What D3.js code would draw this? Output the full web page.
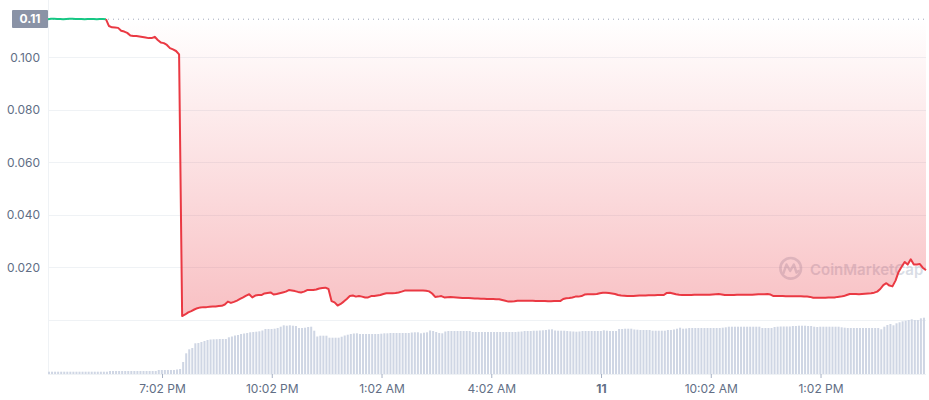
<!DOCTYPE html>
<html>
<head>
<meta charset="utf-8">
<script src="https://cdn.jsdelivr.net/npm/d3@7"></script>
<style>
  html, body { margin: 0; padding: 0; background: #fff; }
  svg { display: block; font-family: Inter, "Noto Sans", sans-serif; }
</style>
</head>
<body>
<svg id="chart" width="929" height="400"></svg>
<script>
// ---------- DATA ----------
const startTime = new Date(2024, 0, 10, 15, 55);   // first sample
const stepMinutes = 5;

// price every 5 minutes (USD)
const prices = [
  0.1145,0.1147,0.1147,0.1146,0.1146,0.1145,0.1146,0.1147,0.1147,0.1146,
  0.1146,0.1146,0.1145,0.1146,0.1146,0.1146,0.1145,0.1146,0.1146,0.1145,
  0.1119,0.1114,0.1113,0.1112,0.1101,0.1098,0.1093,0.1083,0.1081,0.1081,
  0.1079,0.1077,0.1075,0.1073,0.1073,0.1078,0.1066,0.1056,0.1054,0.1047,
  0.1035,0.1030,0.1024,0.1011,
  0.0015,0.0021,0.0029,0.0034,0.0040,0.0045,0.0048,0.0049,0.0049,0.0050,
  0.0051,0.0051,0.0053,0.0054,0.0059,0.0070,0.0065,0.0069,0.0074,0.0080,
  0.0086,0.0093,0.0098,0.0086,0.0093,0.0095,0.0095,0.0101,0.0103,0.0105,
  0.0097,0.0099,0.0102,0.0105,0.0108,0.0114,0.0112,0.0110,0.0107,0.0105,
  0.0108,0.0114,0.0114,0.0114,0.0116,0.0120,0.0122,0.0123,0.0118,0.0072,
  0.0067,0.0055,0.0061,0.0070,0.0080,0.0091,
  0.0093,0.0089,0.0091,0.0089,0.0086,0.0086,0.0091,0.0091,0.0093,0.0095,
  0.0099,0.0102,0.0102,0.0102,0.0103,0.0105,0.0108,0.0112,0.0112,0.0112,
  0.0112,0.0112,0.0112,0.0112,0.0111,0.0109,0.0101,0.0088,0.0089,0.0091,
  0.0086,0.0087,0.0088,0.0087,0.0086,0.0085,0.0084,0.0084,0.0084,0.0083,
  0.0082,0.0082,0.0081,0.0081,0.0080,0.0080,0.0080,0.0079,0.0079,0.0076,
  0.0073,0.0070,0.0070,0.0071,0.0073,0.0073,0.0073,0.0073,0.0073,0.0073,
  0.0072,0.0072,0.0072,0.0072,0.0071,0.0071,0.0072,0.0072,0.0072,0.0080,
  0.0083,0.0084,0.0086,0.0089,0.0089,0.0091,0.0097,0.0098,0.0098,0.0098,
  0.0099,0.0102,0.0104,0.0104,0.0103,0.0101,0.0099,0.0095,0.0093,0.0092,
  0.0091,0.0091,0.0091,0.0092,0.0093,0.0093,0.0093,0.0094,0.0094,0.0094,
  0.0095,0.0095,0.0095,0.0103,0.0104,0.0101,0.0098,0.0096,0.0095,0.0095,
  0.0095,0.0095,0.0096,0.0096,0.0096,0.0096,0.0096,0.0096,0.0097,0.0098,
  0.0099,0.0097,0.0095,0.0095,0.0095,0.0095,0.0096,0.0096,0.0096,0.0096,
  0.0096,0.0096,0.0097,0.0098,0.0098,0.0098,0.0099,0.0097,0.0091,0.0091,
  0.0091,0.0091,0.0090,0.0090,0.0090,0.0090,0.0090,0.0090,0.0089,0.0089,
  0.0088,0.0085,0.0085,0.0085,0.0085,0.0085,0.0086,0.0086,0.0086,0.0088,
  0.0089,0.0091,0.0095,0.0099,0.0099,0.0099,0.0098,0.0099,0.0100,0.0101,
  0.0102,0.0104,0.0108,0.0118,0.0133,0.0140,0.0131,0.0128,0.0150,0.0183,
  0.0203,0.0221,0.0211,0.0231,0.0211,0.0211,0.0213,0.0198,0.0190
];

// volume per 5-minute bar (thousand USD, relative)
const volumes = [
  2.3,2.3,2.3,2.3,2.3,2.3,2.3,2.3,2.3,2.3,2.3,2.3,2.3,2.3,2.3,2.3,2.3,2.3,2.3,2.3,
  3,3,3,3,3,3,3,3,3,3,3,3,3,3,3,3,
  4,4,4,4,4,4,4.5,5,
  12,20.7,24.7,26,30.7,31,32,33,34,34.5,34.7,34.8,35,35,35,36.7,
  37.5,38.5,39,40,40.5,41,41.7,42,42.3,42.7,
  43.5,45,45,45,45.3,46,47.3,48.7,48.3,48.7,
  48.3,48,46,46,46.3,47,47.3,43.3,37.5,38.3,
  38.3,38.3,36.3,36.3,36.3,36.3,37.3,38.5,39.3,40,
  40.5,40.7,40,40,40,40,40,40,40,40.3,
  40.7,40.7,41,41,41,41,41,41,41,41.5,
  41.7,41.7,40.7,41.3,41.7,43.5,43,42,41,40.7,
  42.5,43,43,43,43,43,43,43,43,42,
  42,42,42,42,42,42,42,42,42,42,
  42,42,42,42,42.3,42.5,43,43,43,43.3,
  43.3,43.5,43.7,44,44.5,44.7,43.5,43.3,43.3,43.3,
  43,42.7,42.5,42.3,42.5,43,43,43,43,43,
  43,43,43.7,43.3,43,43,43,45,45,45.3,
  45.3,45.3,44.5,44.3,44,44,44,44,43.3,43.3,
  43.3,43.3,43.3,44,44,44.5,45.3,46.3,45.3,45.5,
  46,46,46,46,46,46,46,46,46,46,
  46,46.3,46.7,47.3,47.3,47.3,47.3,47.3,47.3,47.3,
  47.3,47.3,47.3,47.3,46,46,46,46,47,47.3,
  47.5,47.5,47.5,47.5,48,48,48.3,48.3,48.3,48,
  48,47.3,47,47.3,47.3,47.3,47.3,47.3,47.3,47.3,
  46.7,46.3,46,46,46,46,46,46,46,46,
  46,46,46,44.7,47.3,49,50,48.7,50.7,51.7,
  52.7,53.3,54,54.7,54,54,55.7,56.3
];

const yTickValues = [0.02, 0.04, 0.06, 0.08, 0.10];
const xTickTimes = [
  new Date(2024, 0, 10, 19, 2), new Date(2024, 0, 10, 22, 2),
  new Date(2024, 0, 11, 1, 2),  new Date(2024, 0, 11, 4, 2),
  new Date(2024, 0, 11, 7, 2),  new Date(2024, 0, 11, 10, 2),
  new Date(2024, 0, 11, 13, 2)
];
const xTickLabels = ["7:02 PM", "10:02 PM", "1:02 AM", "4:02 AM", "11", "10:02 AM", "1:02 PM"];
const boldLabels = ["11"];

// ---------- LAYOUT ----------
const svg = d3.select("#chart");
const left = 48, right = 926;
const priceBottom = 320, volBottom = 374;
const red = "#ea3943", green = "#16c784";

const timeAt = i => new Date(+startTime + i * stepMinutes * 60000);
const endTime = timeAt(prices.length - 1);

const x = d3.scaleTime().domain([startTime, endTime]).range([left, right]);
const y = d3.scaleLinear().domain([0, 0.1]).range([priceBottom, 57.3]);
const yVol = d3.scaleLinear().domain([0, 60]).range([volBottom, volBottom - 60]);

const p0 = prices[0];
const baseY = y(p0);

// gradients
const defs = svg.append("defs");
const gRed = defs.append("linearGradient").attr("id", "gRed")
  .attr("gradientUnits", "userSpaceOnUse").attr("x1", 0).attr("x2", 0)
  .attr("y1", baseY).attr("y2", priceBottom);
gRed.append("stop").attr("offset", "0%").attr("stop-color", red).attr("stop-opacity", 0);
gRed.append("stop").attr("offset", "100%").attr("stop-color", red).attr("stop-opacity", 0.32);
const gGreen = defs.append("linearGradient").attr("id", "gGreen")
  .attr("gradientUnits", "userSpaceOnUse").attr("x1", 0).attr("x2", 0)
  .attr("y1", baseY - 20).attr("y2", baseY);
gGreen.append("stop").attr("offset", "0%").attr("stop-color", green).attr("stop-opacity", 0.3);
gGreen.append("stop").attr("offset", "100%").attr("stop-color", green).attr("stop-opacity", 0);

// gridlines
svg.append("g").selectAll("line").data([0].concat(yTickValues)).join("line")
  .attr("x1", left).attr("x2", right)
  .attr("y1", d => Math.round(y(d)) + 0.5).attr("y2", d => Math.round(y(d)) + 0.5)
  .attr("stroke", "#eff2f5").attr("stroke-width", 1);

// left axis line
svg.append("line").attr("x1", left + 0.5).attr("x2", left + 0.5)
  .attr("y1", 0).attr("y2", volBottom)
  .attr("stroke", "#eff2f5").attr("stroke-width", 1);
// volume baseline
svg.append("line").attr("x1", left).attr("x2", right)
  .attr("y1", volBottom + 0.5).attr("y2", volBottom + 0.5)
  .attr("stroke", "#eff2f5").attr("stroke-width", 1);

// y labels
const yAxis = d3.axisLeft(y).tickValues(yTickValues).tickFormat(d3.format(".3f")).tickSize(0).tickPadding(0);
const yg = svg.append("g").attr("transform", `translate(40,0)`).call(yAxis);
yg.select(".domain").remove();
yg.selectAll("text").attr("fill", "#616e85").attr("font-size", 12).attr("font-family", "Inter, sans-serif");

// volume bars
const stepPx = x(timeAt(1)) - x(timeAt(0));
svg.append("g").selectAll("rect").data(volumes).join("rect")
  .attr("x", (d, i) => x(timeAt(i)))
  .attr("width", stepPx * 0.66)
  .attr("y", d => yVol(d))
  .attr("height", d => volBottom - yVol(d))
  .attr("fill", "#cfd6e4");

// x axis
const xAxis = d3.axisBottom(x).tickValues(xTickTimes)
  .tickFormat((d, i) => xTickLabels[i]).tickSize(4).tickPadding(6);
const xg = svg.append("g").attr("transform", `translate(0,${volBottom})`).call(xAxis);
xg.select(".domain").remove();
xg.selectAll(".tick line").attr("stroke", "#a6b0c3");
xg.selectAll("text").attr("fill", "#616e85").attr("font-size", 12)
  .attr("font-family", "Inter, sans-serif")
  .attr("font-weight", (d, i) => boldLabels.includes(xTickLabels[i]) ? 700 : 400);

// watermark
const wm = svg.append("g").attr("opacity", 0.42);
wm.append("circle").attr("cx", 790.7).attr("cy", 268.3).attr("r", 10.3)
  .attr("fill", "none").attr("stroke", "#a6b0c3").attr("stroke-width", 2.6);
wm.append("path")
  .attr("d", "M783.5,273 L786.5,264.5 L790.2,271 L793.8,264.5 L796.5,272.5 L798.5,271")
  .attr("fill", "none").attr("stroke", "#a6b0c3").attr("stroke-width", 2.4)
  .attr("stroke-linejoin", "round").attr("stroke-linecap", "round");
wm.append("text").attr("x", 810).attr("y", 274.5).text("CoinMarketCap")
  .attr("font-family", "Inter, sans-serif").attr("font-size", 15).attr("font-weight", 600)
  .attr("fill", "#a6b0c3");

// baseline dotted
svg.append("line").attr("x1", left).attr("x2", right)
  .attr("y1", baseY).attr("y2", baseY)
  .attr("stroke", "#a1a7bb").attr("stroke-width", 1).attr("stroke-dasharray", "1,4");

// split series at baseline
const pts = prices.map((p, i) => ({ t: timeAt(i), p }));
const segs = [];
let cur = { up: pts[0].p >= p0, pts: [pts[0]] };
for (let i = 1; i < pts.length; i++) {
  const up = pts[i].p >= p0;
  if (up === cur.up) { cur.pts.push(pts[i]); continue; }
  const a = pts[i - 1], b = pts[i];
  const f = (p0 - a.p) / (b.p - a.p);
  const m = { t: new Date(+a.t + f * (b.t - a.t)), p: p0 };
  cur.pts.push(m);
  segs.push(cur);
  cur = { up, pts: [m, pts[i]] };
}
segs.push(cur);

const area = d3.area().x(d => x(d.t)).y0(baseY).y1(d => y(d.p));
const line = d3.line().x(d => x(d.t)).y(d => y(d.p));

svg.append("g").selectAll("path").data(segs).join("path")
  .attr("d", d => area(d.pts))
  .attr("fill", d => d.up ? "url(#gGreen)" : "url(#gRed)");
svg.append("g").selectAll("path").data(segs).join("path")
  .attr("d", d => line(d.pts))
  .attr("fill", "none")
  .attr("stroke", d => d.up ? green : red)
  .attr("stroke-width", 2)
  .attr("stroke-linejoin", "round");

// start price label
svg.append("rect").attr("x", 12).attr("y", 10).attr("width", 36).attr("height", 18)
  .attr("rx", 1).attr("fill", "#8a93a6");
svg.append("text").attr("x", 30).attr("y", 19.5)
  .attr("text-anchor", "middle").attr("dominant-baseline", "middle")
  .attr("fill", "#fff").attr("font-size", 12).attr("font-weight", 700)
  .attr("font-family", "Inter, sans-serif")
  .text(d3.format(".2f")(p0));
</script>
</body>
</html>
